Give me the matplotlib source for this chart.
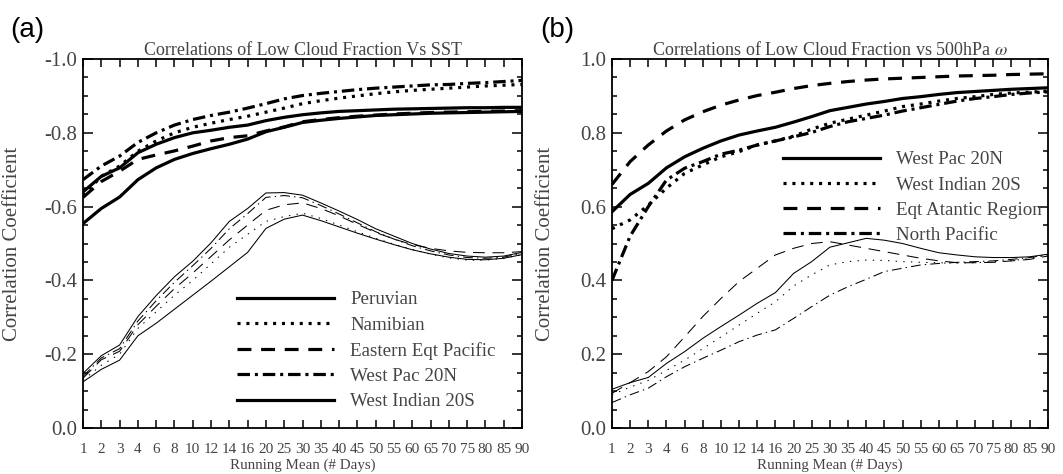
import numpy as np
import matplotlib
matplotlib.use('Agg')
import matplotlib.pyplot as plt
from matplotlib.ticker import FixedLocator, MultipleLocator, FormatStrFormatter

plt.rcParams['font.family'] = ['Liberation Serif', 'DejaVu Serif']
plt.rcParams['mathtext.fontset'] = 'stix'
plt.rcParams['axes.unicode_minus'] = False
plt.rcParams['lines.scale_dashes'] = False

# running mean lengths (categorical x axis)
days = [1, 2, 3, 4, 6, 8, 10, 12, 14, 16, 20, 25, 30, 35, 40, 45, 50, 55, 60, 65, 70, 75, 80, 85, 90]

# (a) low cloud fraction vs SST, upper (thick) curves
sst_peruvian = [-0.554, -0.595, -0.626, -0.673, -0.705, -0.728, -0.744, -0.757, -0.769, -0.783, -0.803, -0.815,
                -0.828, -0.834, -0.839, -0.843, -0.847, -0.849, -0.851, -0.853, -0.854, -0.855, -0.856, -0.857, -0.858]
sst_namibian = [-0.630, -0.682, -0.710, -0.750, -0.778, -0.800, -0.815, -0.826, -0.836, -0.845, -0.856, -0.867,
                -0.879, -0.887, -0.894, -0.900, -0.906, -0.911, -0.915, -0.918, -0.921, -0.924, -0.927, -0.929, -0.931]
sst_eqpac = [-0.625, -0.668, -0.696, -0.728, -0.740, -0.751, -0.764, -0.778, -0.787, -0.792, -0.805, -0.816,
             -0.830, -0.836, -0.841, -0.845, -0.848, -0.851, -0.853, -0.855, -0.856, -0.857, -0.858, -0.859, -0.860]
sst_wpac = [-0.673, -0.710, -0.737, -0.774, -0.800, -0.821, -0.836, -0.847, -0.856, -0.867, -0.879, -0.892,
            -0.901, -0.907, -0.912, -0.917, -0.921, -0.924, -0.927, -0.930, -0.931, -0.934, -0.936, -0.939, -0.942]
sst_windian = [-0.640, -0.682, -0.705, -0.746, -0.769, -0.787, -0.800, -0.807, -0.815, -0.821, -0.833, -0.842,
               -0.849, -0.854, -0.858, -0.860, -0.862, -0.864, -0.865, -0.866, -0.867, -0.868, -0.868, -0.869, -0.869]

# (a) lower (thin) curves
sst_peruvian_lo = [-0.125, -0.159, -0.184, -0.250, -0.284, -0.322, -0.360, -0.398, -0.437, -0.476, -0.541, -0.566,
                   -0.577, -0.562, -0.545, -0.528, -0.512, -0.497, -0.483, -0.472, -0.463, -0.457, -0.456, -0.460, -0.470]
sst_namibian_lo = [-0.130, -0.170, -0.200, -0.270, -0.315, -0.360, -0.400, -0.445, -0.490, -0.525, -0.560, -0.573,
                   -0.582, -0.568, -0.550, -0.532, -0.514, -0.498, -0.484, -0.471, -0.461, -0.455, -0.455, -0.460, -0.470]
sst_eqpac_lo = [-0.135, -0.185, -0.208, -0.280, -0.330, -0.378, -0.420, -0.465, -0.510, -0.550, -0.590, -0.605,
                -0.610, -0.595, -0.575, -0.552, -0.530, -0.512, -0.497, -0.487, -0.480, -0.476, -0.475, -0.475, -0.478]
sst_wpac_lo = [-0.140, -0.190, -0.215, -0.290, -0.345, -0.395, -0.440, -0.487, -0.540, -0.581, -0.625, -0.630,
               -0.624, -0.603, -0.580, -0.556, -0.532, -0.512, -0.494, -0.480, -0.469, -0.462, -0.460, -0.463, -0.474]
sst_windian_lo = [-0.148, -0.196, -0.225, -0.302, -0.359, -0.410, -0.452, -0.502, -0.560, -0.595, -0.637, -0.638,
                  -0.631, -0.610, -0.588, -0.565, -0.540, -0.520, -0.500, -0.485, -0.473, -0.466, -0.463, -0.466, -0.476]

# (b) low cloud fraction vs 500hPa omega, upper (thick) curves
w_wpac = [0.586, 0.633, 0.663, 0.705, 0.735, 0.758, 0.778, 0.794, 0.805, 0.815, 0.829, 0.844,
          0.860, 0.869, 0.878, 0.885, 0.893, 0.898, 0.904, 0.909, 0.912, 0.915, 0.918, 0.920, 0.922]
w_windian = [0.540, 0.564, 0.604, 0.650, 0.690, 0.713, 0.735, 0.749, 0.767, 0.778, 0.791, 0.810,
             0.826, 0.837, 0.848, 0.859, 0.871, 0.878, 0.886, 0.893, 0.898, 0.904, 0.908, 0.910, 0.913]
w_eqatl = [0.660, 0.722, 0.767, 0.805, 0.835, 0.857, 0.875, 0.889, 0.901, 0.910, 0.920, 0.928,
           0.934, 0.939, 0.943, 0.946, 0.948, 0.950, 0.952, 0.954, 0.955, 0.956, 0.958, 0.959, 0.960]
w_npac = [0.400, 0.520, 0.600, 0.672, 0.704, 0.722, 0.742, 0.753, 0.767, 0.778, 0.789, 0.801,
          0.817, 0.830, 0.839, 0.848, 0.859, 0.868, 0.877, 0.886, 0.893, 0.898, 0.904, 0.908, 0.911]

# (b) lower (thin) curves
w_wpac_lo = [0.105, 0.123, 0.137, 0.175, 0.207, 0.243, 0.275, 0.306, 0.338, 0.367, 0.419, 0.451,
             0.490, 0.502, 0.514, 0.509, 0.500, 0.487, 0.475, 0.469, 0.464, 0.462, 0.462, 0.464, 0.471]
w_windian_lo = [0.090, 0.111, 0.129, 0.156, 0.184, 0.215, 0.247, 0.279, 0.311, 0.342, 0.385, 0.415,
                0.442, 0.451, 0.455, 0.454, 0.451, 0.449, 0.448, 0.447, 0.448, 0.451, 0.453, 0.460, 0.469]
w_eqatl_lo = [0.094, 0.123, 0.153, 0.193, 0.247, 0.302, 0.351, 0.397, 0.433, 0.469, 0.487, 0.500,
              0.505, 0.496, 0.487, 0.478, 0.469, 0.460, 0.453, 0.448, 0.448, 0.449, 0.453, 0.457, 0.466]
w_npac_lo = [0.069, 0.090, 0.108, 0.139, 0.166, 0.189, 0.211, 0.234, 0.252, 0.266, 0.297, 0.329,
             0.360, 0.383, 0.403, 0.424, 0.433, 0.442, 0.446, 0.449, 0.451, 0.453, 0.457, 0.462, 0.469]

# line styles (dash lengths in points)
SOLID = '-'
DOT_THICK = (0, (2.2, 4.2))
DASH_THICK = (0, (10, 7))
DDOT_THICK = (0, (9, 3.5, 2.2, 3.5))
DOT_THIN = (0, (1, 4.5))
DASH_THIN = (0, (8.5, 5.5))
DDOT_THIN = (0, (7, 3, 1, 3))
LW_THICK = 2.3
LW_THIN = 0.75
GREY = '#444444'

x = np.arange(len(days))

fig = plt.figure(figsize=(10.63, 4.74), dpi=100)
ax1 = fig.add_axes([0.0781, 0.097, 0.413, 0.7785])
ax2 = fig.add_axes([0.5757, 0.097, 0.410, 0.7785])


def style_axes(ax, ylim, ylabel_x):
    ax.set_xlim(0, len(days) - 1)
    ax.set_ylim(*ylim)
    ax.xaxis.set_major_locator(FixedLocator(x))
    ax.set_xticklabels([str(d) for d in days])
    ax.yaxis.set_major_locator(MultipleLocator(0.2))
    ax.yaxis.set_minor_locator(MultipleLocator(0.05))
    ax.yaxis.set_major_formatter(FormatStrFormatter('%.1f'))
    ax.tick_params(axis='x', which='major', direction='in', top=True, length=6, width=1.1,
                   labelsize=11, labelcolor=GREY, pad=10.5)
    ax.tick_params(axis='y', which='major', direction='in', right=True, length=7, width=1.1,
                   labelsize=15, labelcolor=GREY, pad=4)
    ax.tick_params(axis='y', which='minor', direction='in', right=True, length=3.8, width=1.1)
    for s in ax.spines.values():
        s.set_linewidth(1.3)
    ax.set_xlabel('Running Mean (# Days)', fontsize=10.8, color=GREY, labelpad=2)
    ax.set_ylabel('Correlation Coefficient', fontsize=15, color=GREY)
    ax.yaxis.set_label_coords(ylabel_x, 0.5)


# panel (a)
style_axes(ax1, (0, -1.0), -0.139)
h = []
h += ax1.plot(x, sst_peruvian, color='k', lw=LW_THICK, ls=SOLID, label='Peruvian')
h += ax1.plot(x, sst_namibian, color='k', lw=LW_THICK, ls=DOT_THICK, label='Namibian')
h += ax1.plot(x, sst_eqpac, color='k', lw=LW_THICK, ls=DASH_THICK, label='Eastern Eqt Pacific')
h += ax1.plot(x, sst_wpac, color='k', lw=LW_THICK, ls=DDOT_THICK, label='West Pac 20N')
h += ax1.plot(x, sst_windian, color='k', lw=LW_THICK, ls=SOLID, label='West Indian 20S')
ax1.plot(x, sst_peruvian_lo, color='k', lw=LW_THIN, ls=SOLID)
ax1.plot(x, sst_namibian_lo, color='k', lw=LW_THIN, ls=DOT_THIN)
ax1.plot(x, sst_eqpac_lo, color='k', lw=LW_THIN, ls=DASH_THIN)
ax1.plot(x, sst_wpac_lo, color='k', lw=LW_THIN, ls=DDOT_THIN)
ax1.plot(x, sst_windian_lo, color='k', lw=LW_THIN, ls=SOLID)
ax1.legend(handles=h, loc='upper left', bbox_to_anchor=(0.351, 0.371), frameon=False,
           fontsize=13.7, labelcolor=GREY, handlelength=5.1, handletextpad=0.85,
           labelspacing=0.42, borderaxespad=0, borderpad=0)
ax1.set_title('Correlations of Low Cloud Fraction Vs SST', fontsize=13, color=GREY, pad=3)

# panel (b)
style_axes(ax2, (0, 1.0), -0.131)
h = []
h += ax2.plot(x, w_wpac, color='k', lw=LW_THICK, ls=SOLID, label='West Pac 20N')
h += ax2.plot(x, w_windian, color='k', lw=LW_THICK, ls=DOT_THICK, label='West Indian 20S')
h += ax2.plot(x, w_eqatl, color='k', lw=LW_THICK, ls=DASH_THICK, label='Eqt Atantic Region')
h += ax2.plot(x, w_npac, color='k', lw=LW_THICK, ls=DDOT_THICK, label='North Pacific')
ax2.plot(x, w_wpac_lo, color='k', lw=LW_THIN, ls=SOLID)
ax2.plot(x, w_windian_lo, color='k', lw=LW_THIN, ls=DOT_THIN)
ax2.plot(x, w_eqatl_lo, color='k', lw=LW_THIN, ls=DASH_THIN)
ax2.plot(x, w_npac_lo, color='k', lw=LW_THIN, ls=DDOT_THIN)
ax2.legend(handles=h, loc='upper left', bbox_to_anchor=(0.393, 0.751), frameon=False,
           fontsize=13.7, labelcolor=GREY, handlelength=5.1, handletextpad=0.85,
           labelspacing=0.42, borderaxespad=0, borderpad=0)
ax2.set_title(r'Correlations of Low Cloud Fraction vs 500hPa $\omega$', fontsize=13, color=GREY, pad=3)

# IDL-like placement of the end labels
for ax in (ax1, ax2):
    labels = ax.get_yticklabels()
    labels[0].set_verticalalignment('bottom')
    labels[-1].set_verticalalignment('top')

fig.text(0.0094, 0.965, '(a)', fontsize=20, family='Liberation Sans', va='top')
fig.text(0.508, 0.965, '(b)', fontsize=20, family='Liberation Sans', va='top')

fig.savefig('out.png', dpi=100)
